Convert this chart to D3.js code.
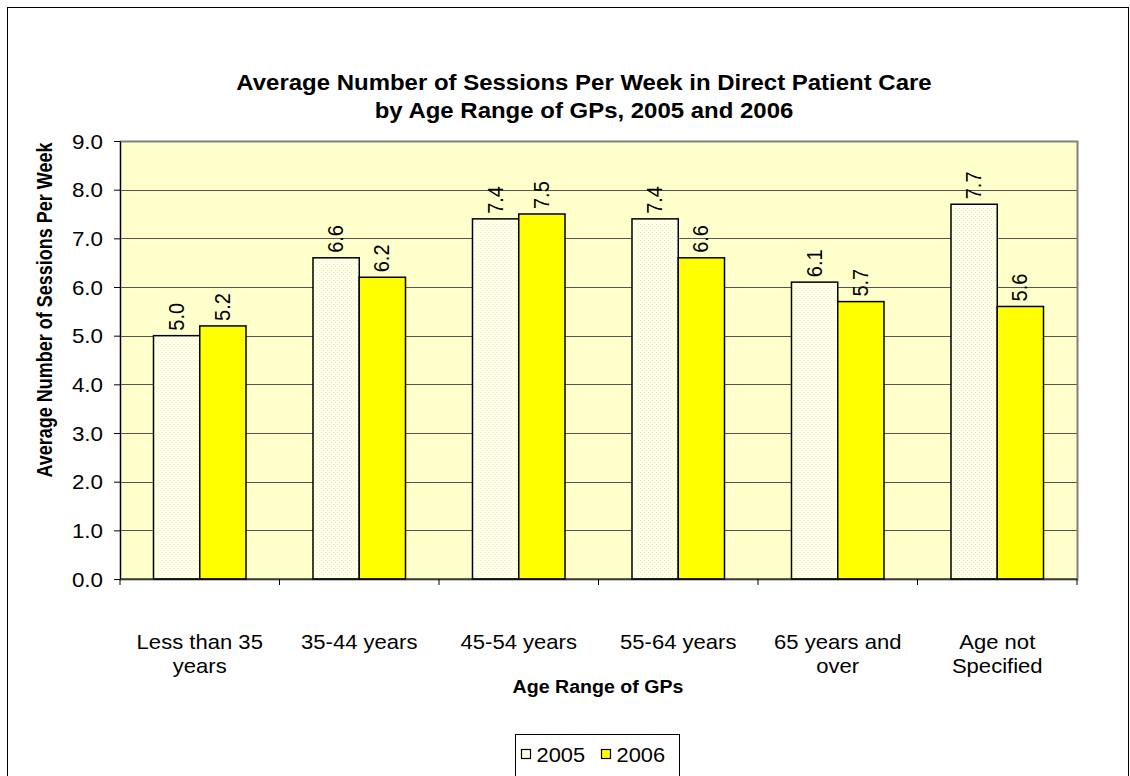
<!DOCTYPE html>
<head>
  <meta charset="utf-8" />
  <script src="https://d3js.org/d3.v7.min.js"></script>
  <style>
    body { margin: 0; background: #fff; }
    text { font-family: Arial, "Liberation Sans", sans-serif; }
  </style>
</head>
<body>
<script>
  var categories = [["Less than 35", "years"], ["35-44 years"], ["45-54 years"], ["55-64 years"], ["65 years and", "over"], ["Age not", "Specified"]];
  var seriesNames = ["2005", "2006"];
  var values2005 = [5.0, 6.6, 7.4, 7.4, 6.1, 7.7];
  var values2006 = [5.2, 6.2, 7.5, 6.6, 5.7, 5.6];
  var yTicks = [0, 1, 2, 3, 4, 5, 6, 7, 8, 9];

  var width = 1130, height = 776;
  var plot = { left: 120, top: 141, right: 1077, bottom: 579 };
  var sx = 1.12; // the original text is a bit wide

  var svg = d3.select("body").append("svg")
    .attr("width", width).attr("height", height);

  // dotted fill for 2005
  var defs = svg.append("defs");
  var pat = defs.append("pattern").attr("id", "dots")
    .attr("patternUnits", "userSpaceOnUse").attr("width", 4).attr("height", 4);
  pat.append("rect").attr("width", 4).attr("height", 4).attr("fill", "#ffffff");
  pat.append("rect").attr("x", 0).attr("y", 0).attr("width", 1).attr("height", 1).attr("fill", "#ffff33");
  pat.append("rect").attr("x", 2).attr("y", 2).attr("width", 1).attr("height", 1).attr("fill", "#ffff33");

  svg.append("rect").attr("x", 7.5).attr("y", 7.5).attr("width", 1121).attr("height", 800)
    .attr("fill", "#fff").attr("stroke", "#000");

  function wideText(parent, x, y, size, str, bold) {
    return parent.append("text")
      .attr("transform", "translate(" + x + "," + y + ") scale(" + sx + ",1)")
      .attr("text-anchor", "middle").attr("font-size", size)
      .attr("font-weight", bold ? "bold" : null).text(str);
  }

  // title
  wideText(svg, 584, 90, 21.4, "Average Number of Sessions Per Week in Direct Patient Care", true);
  wideText(svg, 584, 118, 21.4, "by Age Range of GPs, 2005 and 2006", true);

  var x = d3.scaleBand().domain(d3.range(categories.length))
    .range([plot.left, plot.right]).paddingInner(0.42).paddingOuter(0.21);
  var xs = d3.scaleBand().domain(seriesNames).range([0, x.bandwidth()]);
  var y = d3.scaleLinear().domain([0, 9]).range([plot.bottom, plot.top]);

  svg.append("rect").attr("x", plot.left).attr("y", plot.top)
    .attr("width", plot.right - plot.left).attr("height", plot.bottom - plot.top)
    .attr("fill", "#ffffcc");

  svg.append("g").selectAll("line").data(yTicks.slice(1, -1)).join("line")
    .attr("x1", plot.left).attr("x2", plot.right)
    .attr("y1", d => Math.round(y(d)) + 0.5).attr("y2", d => Math.round(y(d)) + 0.5)
    .attr("stroke", "#555").attr("stroke-width", 1);

  svg.append("rect").attr("x", plot.left + 0.5).attr("y", plot.top + 0.5)
    .attr("width", plot.right - plot.left).attr("height", plot.bottom - plot.top)
    .attr("fill", "none").attr("stroke", "#808080").attr("stroke-width", 2);

  // bars
  var rows = categories.map((c, i) => ({ i: i, vals: [values2005[i], values2006[i]] }));
  var groups = svg.append("g").selectAll("g").data(rows).join("g")
    .attr("transform", d => "translate(" + x(d.i) + ",0)");
  groups.selectAll("rect").data(d => d.vals.map((v, k) => ({ k: k, v: v }))).join("rect")
    .attr("x", d => xs(seriesNames[d.k]))
    .attr("y", d => y(d.v))
    .attr("width", xs.bandwidth())
    .attr("height", d => y(0) - y(d.v))
    .attr("fill", d => d.k === 0 ? "url(#dots)" : "#ffff00")
    .attr("stroke", "#000").attr("stroke-width", 1.5);
  groups.selectAll("text").data(d => d.vals.map((v, k) => ({ k: k, v: v }))).join("text")
    .attr("transform", d => "translate(" + (xs(seriesNames[d.k]) + xs.bandwidth() / 2 + 7) + "," + (y(d.v) - 5) + ") scale(" + sx + ",1) rotate(-90)")
    .attr("font-size", 20).attr("text-anchor", "start")
    .text(d => d.v.toFixed(1));

  // y axis
  var yAxis = svg.append("g").attr("transform", "translate(" + plot.left + ",0)")
    .call(d3.axisLeft(y).tickValues(yTicks).tickFormat(d3.format(".1f")).tickSize(6).tickSizeOuter(0));
  yAxis.select(".domain").attr("stroke", "#000");
  yAxis.selectAll(".tick text").attr("font-size", 20).attr("font-family", "Arial, 'Liberation Sans', sans-serif")
    .attr("fill", "#000").attr("dy", "0.35em").attr("x", 0)
    .attr("transform", "translate(-17,0) scale(" + sx + ",1)");

  // x axis
  var xAxis = svg.append("g").attr("transform", "translate(0," + plot.bottom + ")");
  xAxis.append("line").attr("x1", plot.left).attr("x2", plot.right).attr("stroke", "#000");
  xAxis.selectAll("line.tick").data(d3.range(categories.length + 1)).join("line")
    .attr("class", "tick")
    .attr("x1", d => plot.left + d * (plot.right - plot.left) / categories.length)
    .attr("x2", d => plot.left + d * (plot.right - plot.left) / categories.length)
    .attr("y1", 0).attr("y2", 6).attr("stroke", "#000");
  categories.forEach((c, i) => {
    c.forEach((line, j) => {
      wideText(xAxis, x(i) + x.bandwidth() / 2, 70 + j * 24, 19.7, line, false);
    });
  });

  wideText(svg, 598, 693, 17.5, "Age Range of GPs", true);
  svg.append("text").attr("transform", "translate(52,310) scale(1.2,1) rotate(-90)")
    .attr("text-anchor", "middle").attr("font-weight", "bold").attr("font-size", 18)
    .text("Average Number of Sessions Per Week");

  // legend
  var lg = svg.append("g").attr("transform", "translate(515.5,734.5)");
  lg.append("rect").attr("width", 164).attr("height", 50).attr("fill", "#fff").attr("stroke", "#000");
  seriesNames.forEach((s, k) => {
    var g = lg.append("g").attr("transform", "translate(" + (6 + k * 80) + ",0)");
    g.append("rect").attr("x", 0).attr("y", 15).attr("width", 9).attr("height", 9)
      .attr("fill", k === 0 ? "url(#dots)" : "#ffff00").attr("stroke", "#000").attr("stroke-width", 1.2);
    g.append("text").attr("transform", "translate(15,27) scale(" + sx + ",1)")
      .attr("font-size", 19.5).text(s);
  });
</script>
</body>
